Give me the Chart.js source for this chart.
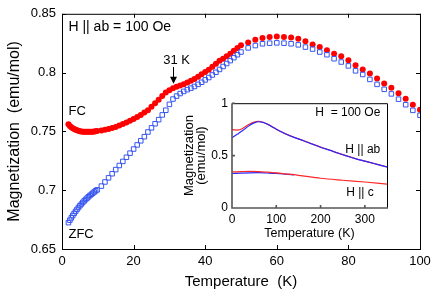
<!DOCTYPE html>
<html lang="en">
<head>
<meta charset="UTF-8">
<title>Magnetization vs Temperature</title>
<script src="https://cdn.jsdelivr.net/npm/chart.js"></script>
<style>
  body { margin: 0; background: #fff; }
  #wrap { position: relative; width: 436px; height: 292px; }
  #inset { position: absolute; left: 180px; top: 92px; }
</style>
</head>
<body>
<div id="wrap">
  <canvas id="main" width="436" height="292"></canvas>
  <canvas id="inset" width="212" height="152"></canvas>
</div>
<script>
// main plot, H || ab = 100 Oe
const temps = [1.8,2.2,2.6,3.0,3.4,3.8,4.2,4.6,5.0,5.4,5.8,6.2,6.6,7.0,7.4,7.8,8.2,8.6,9.0,9.4,9.8,
  11,12,13,14,15,16,17,18,19,20,21,22,23,24,25,26,27,28,29,30,
  31,32,33,34,35,36,37,38,39,40,41,42,43,44,45,46,47,48,49,50,
  52,54,56,58,60,62,64,66,68,70,72,74,76,78,80,82,84,86,88,90,92,94,96,98,100]
const fc = [0.7560,0.7545,0.7535,0.7527,0.7520,0.7514,0.7509,0.7505,0.7502,0.7500,0.7498,0.7497,0.7496,0.7496,0.7496,0.7496,0.7497,0.7498,0.7499,0.7501,0.7503,
  0.7508,0.7514,0.7521,0.7529,0.7538,0.7550,0.7562,0.7575,0.7590,0.7605,0.7622,0.7640,0.7660,0.7680,0.7710,0.7740,0.7770,0.7800,0.7830,0.7850,
  0.7866,0.7880,0.7890,0.7900,0.7915,0.7930,0.7945,0.7965,0.7985,0.8005,0.8025,0.8050,0.8075,0.8100,0.8118,0.8140,0.8160,0.8185,0.8210,0.8232,
  0.8257,0.8280,0.8295,0.8303,0.8307,0.8303,0.8298,0.8287,0.8267,0.8240,0.8217,0.8190,0.8160,0.8139,0.8105,0.8063,0.8026,0.7993,0.7950,0.7908,0.7872,0.7824,0.7777,0.7727,0.7685]
const zfc = [0.6724,0.6745,0.6765,0.6785,0.6803,0.6820,0.6837,0.6853,0.6868,0.6882,0.6896,0.6909,0.6921,0.6933,0.6944,0.6955,0.6965,0.6975,0.6985,0.6995,0.7003,
  0.7035,0.7070,0.7105,0.7140,0.7175,0.7210,0.7245,0.7280,0.7315,0.7350,0.7385,0.7420,0.7455,0.7495,0.7530,0.7565,0.7600,0.7640,0.7680,0.7730,
  0.7775,0.7800,0.7822,0.7840,0.7855,0.7868,0.7882,0.7900,0.7918,0.7938,0.7958,0.7980,0.8003,0.8027,0.8052,0.8077,0.8102,0.8127,0.8152,0.8175,
  0.8210,0.8230,0.8245,0.8250,0.8253,0.8250,0.8245,0.8236,0.8217,0.8200,0.8175,0.8152,0.8118,0.8090,0.8057,0.8015,0.7984,0.7942,0.7900,0.7858,0.7819,0.7774,0.7727,0.7679,0.7637]
const xTicks = [0,20,40,60,80,100]
const yTicks = [0.65,0.7,0.75,0.8,0.85]

// inset, 0-350 K
const insetTempAb = [0,5,10,15,20,25,30,40,50,60,70,80,90,100,120,140,160,180,200,220,240,260,280,300,320,340,350]
const abFc = [0.748,0.746,0.744,0.745,0.751,0.762,0.776,0.802,0.820,0.826,0.818,0.800,0.777,0.752,0.710,0.675,0.645,0.613,0.581,0.553,0.523,0.496,0.470,0.448,0.426,0.403,0.392]
const abZfc = [0.670,0.684,0.698,0.712,0.727,0.742,0.758,0.790,0.812,0.823,0.817,0.799,0.776,0.751,0.709,0.674,0.644,0.612,0.580,0.552,0.522,0.495,0.469,0.447,0.425,0.402,0.391]
const insetTempC = [0,20,40,60,80,100,120,150,200,250,300,350]
const cFc = [0.344,0.347,0.350,0.348,0.342,0.335,0.326,0.312,0.284,0.265,0.248,0.228]
const insetTempCZfc = [0,20,40,60,80,100,120,140]
const cZfc = [0.329,0.333,0.336,0.337,0.334,0.330,0.323,0.315]
const insetXTicks = [0,100,200,300]
const insetYTicks = [0,0.5,1]

Chart.defaults.font.family = '"Liberation Sans", Arial, sans-serif'
Chart.defaults.color = '#000'

const pts = (xs, ys) => xs.map((t, i) => ({x: t, y: ys[i]}))

// frame with inward ticks + text labels
const mainDecor = {
  id: 'mainDecor',
  afterDraw(chart) {
    const {ctx, chartArea: a, scales: {x, y}} = chart
    ctx.save()
    ctx.strokeStyle = '#000'
    ctx.lineWidth = 1
    ctx.strokeRect(a.left + 0.5, a.top + 0.5, a.right - a.left, a.bottom - a.top)
    ctx.beginPath()
    xTicks.forEach(v => {
      const px = Math.round(x.getPixelForValue(v)) + 0.5
      ctx.moveTo(px, a.bottom); ctx.lineTo(px, a.bottom - 4)
      ctx.moveTo(px, a.top); ctx.lineTo(px, a.top + 4)
    })
    yTicks.forEach(v => {
      const py = Math.round(y.getPixelForValue(v)) + 0.5
      ctx.moveTo(a.left, py); ctx.lineTo(a.left + 4, py)
      ctx.moveTo(a.right, py); ctx.lineTo(a.right - 4, py)
    })
    ctx.stroke()

    ctx.fillStyle = '#000'
    ctx.textBaseline = 'middle'
    ctx.textAlign = 'left'
    ctx.font = '14px "Liberation Sans", Arial, sans-serif'
    ctx.fillText('H || ab = 100 Oe', x.getPixelForValue(1.8), y.getPixelForValue(0.8385))
    ctx.font = '13px "Liberation Sans", Arial, sans-serif'
    ctx.fillText('FC', x.getPixelForValue(1.8), y.getPixelForValue(0.767))
    ctx.fillText('ZFC', x.getPixelForValue(1.8), y.getPixelForValue(0.662))
    ctx.textAlign = 'center'
    ctx.fillText('31 K', x.getPixelForValue(32), y.getPixelForValue(0.81))

    // arrow at 31 K
    const ax = Math.round(x.getPixelForValue(31)) + 0.5
    const y0 = y.getPixelForValue(0.8048)
    const y1 = y.getPixelForValue(0.7906)
    ctx.beginPath()
    ctx.moveTo(ax, y0); ctx.lineTo(ax, y1 - 6)
    ctx.stroke()
    ctx.beginPath()
    ctx.moveTo(ax - 3.5, y1 - 7); ctx.lineTo(ax + 3.5, y1 - 7); ctx.lineTo(ax, y1)
    ctx.closePath()
    ctx.fill()
    ctx.restore()
  }
}

new Chart(document.getElementById('main'), {
  type: 'scatter',
  data: {
    datasets: [
      {
        label: 'ZFC',
        data: pts(temps, zfc),
        pointStyle: 'rect',
        pointRadius: 3.2,
        borderWidth: 1,
        borderColor: 'rgb(55,85,240)',
        backgroundColor: 'rgba(255,255,255,0)'
      },
      {
        label: 'FC',
        data: pts(temps, fc),
        pointStyle: 'circle',
        pointRadius: 3,
        borderWidth: 0,
        backgroundColor: '#ff0000'
      }
    ]
  },
  options: {
    responsive: false,
    animation: false,
    layout: {padding: {top: 11, right: 16, left: 0, bottom: 0}},
    plugins: {legend: {display: false}, tooltip: {enabled: false}},
    scales: {
      x: {
        type: 'linear', min: 0, max: 100,
        afterBuildTicks: s => { s.ticks = xTicks.map(v => ({value: v})) },
        afterFit: s => { s.height = 43 },
        grid: {display: false, drawTicks: false},
        border: {display: false},
        ticks: {padding: 5, font: {size: 13}, maxRotation: 0},
        title: {display: true, text: 'Temperature  (K)', font: {size: 15}, padding: {top: 0, bottom: 1}}
      },
      y: {
        min: 0.65, max: 0.85,
        afterBuildTicks: s => { s.ticks = yTicks.map(v => ({value: v})) },
        afterFit: s => { s.width = 62 },
        grid: {display: false, drawTicks: false},
        border: {display: false},
        ticks: {padding: 6, font: {size: 13}, callback: v => String(v)},
        title: {display: true, text: 'Magnetization  (emu/mol)', font: {size: 16}, padding: {top: 5, bottom: 0}}
      }
    }
  },
  plugins: [mainDecor]
})

// inset
const insetDecor = {
  id: 'insetDecor',
  afterDraw(chart) {
    const {ctx, chartArea: a, scales: {x, y}} = chart
    ctx.save()
    ctx.strokeStyle = '#000'
    ctx.lineWidth = 1
    ctx.beginPath()
    ctx.moveTo(a.left, a.top + 0.5); ctx.lineTo(a.right + 0.5, a.top + 0.5); ctx.lineTo(a.right + 0.5, a.bottom)
    ctx.stroke()
    ctx.strokeStyle = '#555'
    ctx.lineWidth = 1.6
    ctx.beginPath()
    ctx.moveTo(a.left, a.top); ctx.lineTo(a.left, a.bottom); ctx.lineTo(a.right + 1, a.bottom)
    insetXTicks.forEach(v => {
      const px = x.getPixelForValue(v)
      ctx.moveTo(px, a.bottom); ctx.lineTo(px, a.bottom - 3)
    })
    insetYTicks.forEach(v => {
      const py = y.getPixelForValue(v)
      ctx.moveTo(a.left, py); ctx.lineTo(a.left + 3, py)
    })
    ctx.stroke()

    ctx.fillStyle = '#000'
    ctx.textBaseline = 'middle'
    ctx.font = '12px "Liberation Sans", Arial, sans-serif'
    ctx.textAlign = 'right'
    ctx.fillText('H  = 100 Oe', x.getPixelForValue(335), y.getPixelForValue(0.907))
    ctx.textAlign = 'left'
    ctx.fillText('H || ab', x.getPixelForValue(256), y.getPixelForValue(0.554))
    ctx.fillText('H || c', x.getPixelForValue(258), y.getPixelForValue(0.149))
    ctx.restore()
  }
}

const lineSet = (label, data, color) => ({
  label, data, showLine: true, pointRadius: 0, borderWidth: 1.2,
  borderColor: color, cubicInterpolationMode: 'monotone'
})

new Chart(document.getElementById('inset'), {
  type: 'scatter',
  data: {
    datasets: [
      lineSet('c FC', pts(insetTempC, cFc), 'rgb(255,40,40)'),
      lineSet('c ZFC', pts(insetTempCZfc, cZfc), 'rgb(40,40,255)'),
      lineSet('ab ZFC', pts(insetTempAb, abZfc), 'rgb(40,40,255)'),
      lineSet('ab FC', pts(insetTempAb, abFc), 'rgb(255,40,40)')
    ]
  },
  options: {
    responsive: false,
    animation: false,
    layout: {padding: {top: 8, right: 5, left: 0, bottom: 0}},
    plugins: {legend: {display: false}, tooltip: {enabled: false}},
    scales: {
      x: {
        type: 'linear', min: 0, max: 350,
        afterBuildTicks: s => { s.ticks = insetXTicks.map(v => ({value: v})) },
        afterFit: s => { s.height = 36 },
        grid: {display: false, drawTicks: false},
        border: {display: false},
        ticks: {padding: 4, font: {size: 12}, maxRotation: 0},
        title: {display: true, text: 'Temperature (K)', font: {size: 12.5}, padding: {top: 0, bottom: 3}}
      },
      y: {
        min: 0, max: 1,
        afterBuildTicks: s => { s.ticks = insetYTicks.map(v => ({value: v})) },
        afterFit: s => { s.width = 52 },
        grid: {display: false, drawTicks: false},
        border: {display: false},
        ticks: {padding: 4, font: {size: 12}, callback: v => String(v)},
        title: {display: true, text: ['Magnetization', '(emu/mol)'], font: {size: 13, lineHeight: 0.9}, padding: {top: 4, bottom: 0}}
      }
    }
  },
  plugins: [insetDecor]
})
</script>
</body>
</html>
